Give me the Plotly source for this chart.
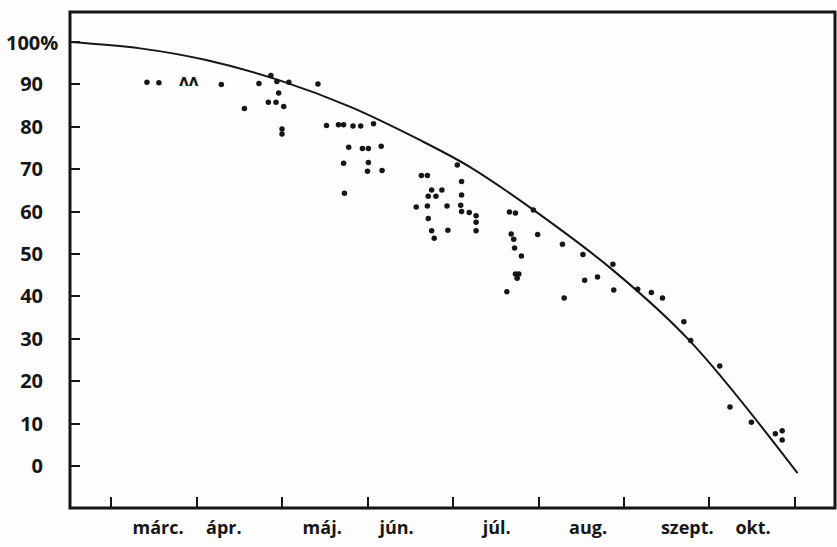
import plotly.graph_objects as go

# ---- data (x: month number, 3.0 = start of March; y: percent) ----
months = ["márc.", "ápr.", "máj.", "jún.", "júl.", "aug.", "szept.", "okt."]
month_label_x = [3.55, 4.32, 5.47, 6.34, 7.51, 8.58, 9.74, 10.51]
month_bounds = [3, 4, 5, 6, 7, 8, 9, 10, 11]
y_ticks = [0, 10, 20, 30, 40, 50, 60, 70, 80, 90, 100]
y_ticktext = ["0", "10", "20", "30", "40", "50", "60", "70", "80", "90", ""]

curve_x = [2.52, 3.34, 4.10, 4.98, 5.80, 6.61, 7.20, 7.94, 8.87, 9.77, 11.03]
curve_y = [100.0, 98.5, 95.8, 90.9, 84.7, 76.9, 70.5, 60.4, 46.2, 29.5, -1.7]

obs_x = [3.42, 3.56, 4.29, 4.73, 4.87, 4.94, 5.08, 5.42, 4.96, 4.56,
         4.84, 4.93, 5.02, 5.00, 5.00, 5.52, 5.66, 5.72, 5.83, 5.92,
         6.07, 5.78, 5.94, 6.01, 6.16, 5.72, 6.01, 6.00, 6.17, 5.73,
         6.57, 7.05, 6.63, 6.70, 6.75, 6.87, 6.71, 6.80, 6.70, 6.93,
         6.71, 6.75, 6.78, 6.94, 7.10, 7.10, 7.09, 7.10, 7.19, 7.27,
         7.27, 7.27, 7.66, 7.73, 7.94, 7.68, 7.71, 7.72, 7.80, 7.99,
         8.28, 7.73, 7.77, 7.75, 7.63, 8.52, 8.87, 8.54, 8.69, 8.30,
         8.88, 9.16, 9.32, 9.45, 9.70, 9.78, 10.12, 10.24, 10.49, 10.77,
         10.85, 10.85]
obs_y = [90.5, 90.4, 90.0, 90.2, 92.1, 90.7, 90.5, 90.1, 88.0, 84.3,
         85.8, 85.8, 84.8, 79.5, 78.3, 80.3, 80.5, 80.5, 80.2, 80.2,
         80.7, 75.2, 74.9, 74.9, 75.4, 71.4, 71.6, 69.5, 69.7, 64.3,
         61.1, 71.0, 68.5, 68.5, 65.1, 65.1, 63.6, 63.6, 61.3, 61.3,
         58.4, 55.5, 53.7, 55.6, 67.1, 63.9, 61.5, 60.0, 59.8, 59.0,
         57.5, 55.5, 59.9, 59.7, 60.4, 54.7, 53.5, 51.4, 49.5, 54.6,
         52.3, 45.3, 45.3, 44.3, 41.1, 49.9, 47.6, 43.8, 44.6, 39.6,
         41.5, 41.7, 40.9, 39.6, 34.0, 29.6, 23.6, 13.9, 10.3, 7.6,
         8.3, 6.1]

# the small "ʌʌ" mark printed among the points
mark_x = [3.91]
mark_y = [90.6]
mark_text = ["ʌʌ"]

INK = "#161616"
fig = go.Figure()
fig.add_trace(go.Scatter(x=curve_x, y=curve_y, mode="lines",
                         line=dict(color=INK, width=2, shape="spline", smoothing=1.0),
                         hoverinfo="skip", showlegend=False))
fig.add_trace(go.Scatter(x=obs_x, y=obs_y, mode="markers",
                         marker=dict(color=INK, size=5.5),
                         showlegend=False))
fig.add_trace(go.Scatter(x=mark_x, y=mark_y, mode="text", text=mark_text,
                         textfont=dict(family="DejaVu Sans", size=15, color=INK, weight=700),
                         showlegend=False))

fig.update_layout(
    width=837, height=547,
    margin=dict(l=70, r=2, t=12, b=39, autoexpand=False),
    paper_bgcolor="#fdfdfd", plot_bgcolor="#fdfdfd",
    xaxis=dict(range=[2.520, 11.468], showgrid=False, zeroline=False,
               showline=False, automargin=False,
               tickmode="array", tickvals=month_label_x, ticktext=months,
               ticks="", ticklabelstandoff=7,
               tickfont=dict(family="Open Sans", size=18, color=INK, weight=700),
               minor=dict(tickmode="array", tickvals=month_bounds, ticks="inside",
                          ticklen=11, tickwidth=1.5, tickcolor=INK)),
    yaxis=dict(range=[-9.91, 107.08], showgrid=False, zeroline=False,
               showline=False, automargin=False,
               tickmode="array", tickvals=y_ticks, ticktext=y_ticktext,
               ticks="inside", ticklen=10, tickwidth=1.5, tickcolor=INK,
               ticklabelstandoff=26,
               tickfont=dict(family="Open Sans", size=20, color=INK, weight=700)),
    shapes=[dict(type="rect", xref="paper", yref="paper", x0=0, x1=1, y0=0, y1=1,
                 line=dict(color=INK, width=3), layer="above")],
    annotations=[dict(x=0, y=100, xref="paper", yref="y", text="100%",
                      xanchor="left", yanchor="middle", xshift=-66, showarrow=False,
                      font=dict(family="Open Sans", size=20, color=INK, weight=700))],
)

fig.write_html("out.html",
               config={"displayModeBar": False},
               post_script="document.body.style.margin='0';document.body.style.padding='0';")
